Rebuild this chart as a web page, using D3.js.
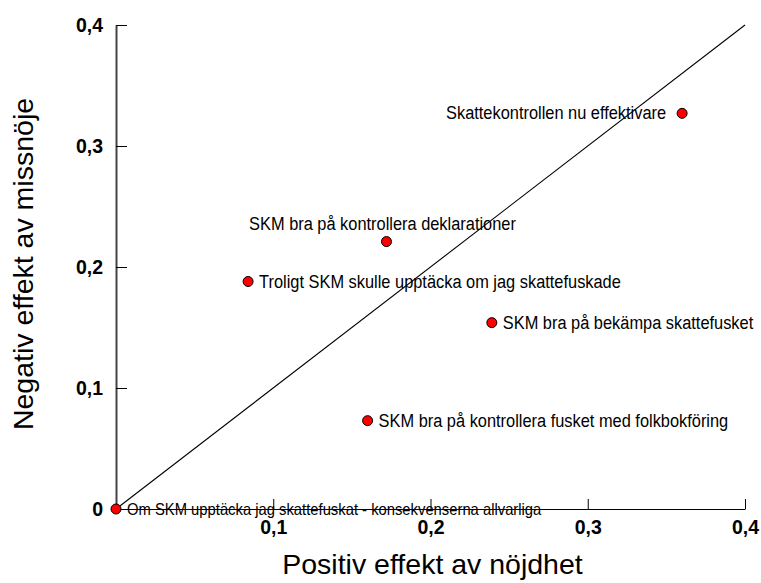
<!DOCTYPE html>
<html>
<head>
<meta charset="utf-8">
<script src="https://cdn.jsdelivr.net/npm/d3@7"></script>
<style>
  html, body { margin: 0; padding: 0; background: #fff; }
  svg { display: block; font-family: "Liberation Sans", Arial, sans-serif; }
</style>
</head>
<body>
<svg id="chart" width="761" height="583"></svg>
<script>
// Data
const labels = [
  "Om SKM upptäcka jag skattefuskat - konsekvenserna allvarliga",
  "Troligt SKM skulle upptäcka om jag skattefuskade",
  "SKM bra på kontrollera deklarationer",
  "SKM bra på bekämpa skattefusket",
  "SKM bra på kontrollera fusket med folkbokföring",
  "Skattekontrollen nu effektivare"
];
const positiv = [0.0, 0.084, 0.172, 0.239, 0.160, 0.360];
const negativ = [0.0, 0.188, 0.221, 0.154, 0.073, 0.327];
const labelSide = ["right", "right", "above", "right", "right", "left"];
const xTicks = [0.1, 0.2, 0.3, 0.4];
const yTicks = [0, 0.1, 0.2, 0.3, 0.4];
const xTitle = "Positiv effekt av nöjdhet";
const yTitle = "Negativ effekt av missnöje";

const svg = d3.select("#chart");
const x = d3.scaleLinear().domain([0, 0.4]).range([116, 745]);
const y = d3.scaleLinear().domain([0, 0.4]).range([509, 25]);
const fmt = v => v === 0 ? "0" : d3.format(".1f")(v).replace(".", ",");

// diagonal reference line
svg.append("line")
  .attr("x1", x(0)).attr("y1", y(0))
  .attr("x2", x(0.4)).attr("y2", y(0.4))
  .attr("stroke", "#000").attr("stroke-width", 1.1);

// X axis
const xAxis = svg.append("g").attr("transform", `translate(0,${y(0)})`)
  .call(d3.axisBottom(x).tickValues(xTicks).tickSizeInner(-10).tickSizeOuter(0).tickPadding(11).tickFormat(fmt));
xAxis.select(".domain").attr("stroke", "#000").attr("stroke-width", 1.2);
xAxis.selectAll(".tick line").attr("stroke", "#000");
xAxis.selectAll(".tick text").attr("font-size", 19.5).attr("font-weight", "bold")
  .attr("font-family", "Liberation Sans, Arial, sans-serif").attr("fill", "#000").attr("dy", "0.71em");

// Y axis
const yAxis = svg.append("g").attr("transform", `translate(${x(0)},0)`)
  .call(d3.axisLeft(y).tickValues(yTicks).tickSizeInner(-11).tickSizeOuter(0).tickPadding(13).tickFormat(fmt));
yAxis.select(".domain").attr("stroke", "#444").attr("stroke-width", 2);
yAxis.selectAll(".tick line").attr("stroke", "#000");
yAxis.selectAll(".tick text").attr("font-size", 19.5).attr("font-weight", "bold")
  .attr("font-family", "Liberation Sans, Arial, sans-serif").attr("fill", "#000");

// Labels
const idx = d3.range(labels.length);
const lx = i => labelSide[i] === "right" ? x(positiv[i]) + 11 : labelSide[i] === "left" ? x(positiv[i]) - 16 : x(positiv[i]) - 4;
const ly = i => labelSide[i] === "above" ? y(negativ[i]) - 12 : y(negativ[i]) + 6;
svg.append("g").selectAll("text").data(idx).join("text")
  .attr("font-size", i => i === 0 ? 14.8 : 16.4)
  .attr("fill", "#000")
  .attr("transform", i => `translate(${lx(i)},${ly(i)}) scale(1,1.1)`)
  .attr("text-anchor", i => labelSide[i] === "right" ? "start" : labelSide[i] === "left" ? "end" : "middle")
  .text(i => labels[i]);

// Points
svg.append("g").selectAll("circle").data(idx).join("circle")
  .attr("cx", i => x(positiv[i]))
  .attr("cy", i => y(negativ[i]))
  .attr("r", 5)
  .attr("fill", "#ff0000")
  .attr("stroke", "#000")
  .attr("stroke-width", 1);

// Axis titles
svg.append("text")
  .attr("x", (x(0) + x(0.4)) / 2 + 2).attr("y", 574)
  .attr("text-anchor", "middle").attr("font-size", 28.5).attr("fill", "#000")
  .text(xTitle);
svg.append("text")
  .attr("transform", `translate(33,${(y(0) + y(0.4)) / 2 - 3}) rotate(-90)`)
  .attr("text-anchor", "middle").attr("font-size", 28.5).attr("fill", "#000")
  .text(yTitle);
</script>
</body>
</html>
